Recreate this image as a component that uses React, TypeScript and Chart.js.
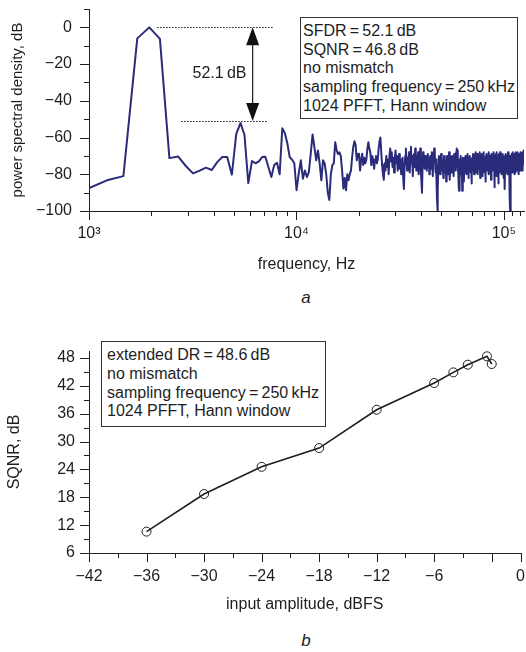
import React, { useEffect, useRef } from 'react';
import { Chart, registerables } from 'chart.js';

Chart.register(...registerables);

const FONT = '"Liberation Sans", Arial, Helvetica, sans-serif';
const INK = '#1e1e1e';
const NAVY = '#2a2b7a';

// ---------- panel a: PSD (1024-point FFT bins k = 4 .. 512) ----------
const SAMPLE_RATE_HZ = 250000;
const FFT_SIZE = 1024;
const FIRST_BIN = 4;
const psdDb = [
  -88, -83.3, -81, -6, 0, -6.3, -71.2, -70.3, -75.5, -79.5,
  -78, -76.4, -77.7, -73.4, -70.6, -70.6, -80.2, -58, -52.1, -58.5,
  -84.8, -72.8, -74, -73, -70.6, -70.5, -76, -81.5, -75, -73.7,
  -80, -55, -57.5, -63, -70.6, -72, -74, -88.7, -79.7, -72.4,
  -82.4, -77.9, -81.5, -78.8, -68.8, -58.3, -65.2, -72.4, -67, -74.2,
  -83.3, -72.4, -74, -80, -90, -94, -80, -75, -74, -62.5,
  -67, -69, -68, -70, -78, -87.8, -82, -88.7, -80, -83.3,
  -80, -78, -70.6, -65, -62, -64, -72.4, -69, -68.8, -77.9,
  -72, -68.8, -75, -71, -74, -72, -66, -62.5, -66, -68,
  -75, -70, -72, -77, -72, -70, -74, -72, -66, -62,
  -60, -68, -75, -80, -83, -74, -78, -70, -76, -72,
  -80, -70, -66, -73, -68, -76, -71, -79, -72, -67,
  -74, -70, -78, -73, -69, -77, -72, -80, -75, -71,
  -82, -88, -76, -70, -66, -73, -78, -71, -74, -68,
  -79, -72, -65, -74, -70, -81, -73, -69, -76, -66,
  -72, -78, -70, -75, -68, -80, -74, -70, -66, -79,
  -84, -90, -76, -68, -73, -70, -77, -72, -75, -70,
  -78, -73, -69, -76, -71, -80, -74, -70, -77, -72,
  -68, -75, -81, -71, -69, -66, -67, -74, -79, -72,
  -85, -94, -101, -88, -75, -70, -77, -72, -80, -74,
  -69, -76, -71, -78, -73, -82, -75, -70, -77, -72,
  -79, -74, -84, -76, -70, -78, -73, -80, -72, -68,
  -75, -83, -74, -70, -77, -72, -79, -74, -70, -76,
  -81, -73, -69, -75, -71, -78, -72, -68, -66, -74,
  -70, -67, -76, -80, -86, -89, -78, -72, -76, -70,
  -79, -73, -81, -75, -89, -77, -71, -78, -73, -84,
  -76, -71, -79, -74, -70, -77, -73, -80, -74, -69,
  -76, -72, -82, -75, -71, -78, -73, -70, -77, -72,
  -79, -74, -85, -76, -71, -78, -73, -69, -76, -72,
  -80, -74, -70, -77, -72, -68, -75, -71, -79, -73,
  -69, -76, -72, -80, -74, -70, -77, -73, -68, -75,
  -71, -82, -74, -70, -78, -72, -69, -76, -73, -81,
  -75, -70, -77, -72, -68, -74, -79, -71, -76, -73,
  -84, -75, -70, -77, -72, -69, -76, -71, -78, -74,
  -70, -80, -73, -68, -75, -72, -79, -74, -70, -77,
  -71, -83, -75, -69, -76, -72, -78, -73, -70, -77,
  -74, -68, -75, -71, -80, -73, -87, -70, -78, -72,
  -69, -76, -74, -81, -72, -68, -75, -71, -78, -73,
  -70, -85, -76, -72, -69, -77, -73, -79, -71, -68,
  -75, -72, -78, -74, -70, -76, -73, -80, -72, -69,
  -77, -71, -75, -70, -78, -73, -82, -74, -79, -84,
  -88, -76, -71, -77, -73, -69, -76, -72, -79, -74,
  -70, -77, -73, -80, -71, -68, -75, -72, -78, -74,
  -70, -76, -81, -86, -92, -100, -101, -84, -74, -70,
  -77, -72, -69, -76, -73, -79, -71, -68, -75, -72,
  -78, -74, -70, -77, -73, -69, -80, -74, -71, -78,
  -72, -68, -75, -71, -79, -74, -70, -76, -72, -69,
  -77, -73, -70, -78, -74, -68, -75, -71, -77, -73,
  -80, -72, -69, -76, -72, -70, -78, -73, -68, -75,
  -71, -77, -72, -69, -76, -73, -70, -78, -72, -68,
  -75, -71, -77, -72, -69, -74, -70, -67, -70,
];

const freqTickValues = [1e3, 1e4, 1e5];
const freqTickLabels = ['10³', '10⁴', '10⁵'];
const freqMinorTicks = [2e3, 3e3, 4e3, 5e3, 6e3, 7e3, 8e3, 9e3, 2e4, 3e4, 4e4, 5e4, 6e4, 7e4, 8e4, 9e4, 1.1e5, 1.2e5];
const psdTickValues = [-100, -80, -60, -40, -20, 0];
const psdTickLabels = ['−100', '−80', '−60', '−40', '−20', '0'];
const psdMinorTicks = [-90, -70, -50, -30, -10, 10];

// SFDR annotation (dB levels and frequencies in Hz)
const sfdrCarrierDb = 0;
const sfdrSpurDb = -51;
const sfdrTopLineHz = [2130, 7700];
const sfdrBottomLineHz = [2780, 7240];
const sfdrArrowHz = 6150;

// ---------- panel b: SQNR vs input amplitude ----------
const amplitudeDbfs = [-36, -30, -24, -18, -12, -6, -4, -2.5, -0.5, 0];
const sqnrDb = [10.6, 18.7, 24.55, 28.6, 36.85, 42.6, 44.9, 46.55, 48.35, 46.7];
const ampTickValues = [-42, -36, -30, -24, -18, -12, -6, 0, 3];
const ampTickLabels = ['−42', '−36', '−30', '−24', '−18', '−12', '−6', '', '0'];
const ampMinorTicks = [-39, -33, -27, -21, -15, -9, -3];
const sqnrTickValues = [6, 12, 18, 24, 30, 36, 42, 48];
const sqnrTickLabels = ['6', '12', '18', '24', '30', '36', '42', '48'];
const sqnrMinorTicks = [9, 15, 21, 27, 33, 39, 45];

function makeTickPlugin(xMajor: number[], xMinor: number[], yMajor: number[], yMinor: number[]) {
  return {
    id: 'tickMarks',
    afterDraw(chart: any) {
      const { ctx, chartArea } = chart;
      const xs = chart.scales.x;
      const ys = chart.scales.y;
      ctx.save();
      ctx.strokeStyle = INK;
      ctx.lineWidth = 1;
      ctx.beginPath();
      const vx = (vals: number[], len: number) =>
        vals.forEach((v) => {
          const p = Math.round(xs.getPixelForValue(v)) + 0.5;
          ctx.moveTo(p, chartArea.bottom);
          ctx.lineTo(p, chartArea.bottom + len);
        });
      const vy = (vals: number[], len: number) =>
        vals.forEach((v) => {
          const p = Math.round(ys.getPixelForValue(v)) + 0.5;
          ctx.moveTo(chartArea.left, p);
          ctx.lineTo(chartArea.left - len, p);
        });
      vx(xMajor, 9);
      vx(xMinor, 5);
      vy(yMajor, 9);
      vy(yMinor, 5);
      ctx.stroke();
      ctx.restore();
    },
  };
}

const sfdrPlugin = {
  id: 'sfdrAnnotation',
  afterDatasetsDraw(chart: any) {
    const { ctx } = chart;
    const xs = chart.scales.x;
    const ys = chart.scales.y;
    const y0 = ys.getPixelForValue(sfdrCarrierDb);
    const y1 = ys.getPixelForValue(sfdrSpurDb);
    ctx.save();
    ctx.strokeStyle = INK;
    ctx.lineWidth = 1;
    ctx.setLineDash([1.5, 1.5]);
    ctx.beginPath();
    ctx.moveTo(xs.getPixelForValue(sfdrTopLineHz[0]), Math.round(y0) + 0.5);
    ctx.lineTo(xs.getPixelForValue(sfdrTopLineHz[1]), Math.round(y0) + 0.5);
    ctx.moveTo(xs.getPixelForValue(sfdrBottomLineHz[0]), Math.round(y1) + 0.5);
    ctx.lineTo(xs.getPixelForValue(sfdrBottomLineHz[1]), Math.round(y1) + 0.5);
    ctx.stroke();
    ctx.setLineDash([]);
    const ax = xs.getPixelForValue(sfdrArrowHz);
    const head = 18;
    const half = 6.5;
    ctx.lineWidth = 1.2;
    ctx.beginPath();
    ctx.moveTo(ax, y0 + head - 1);
    ctx.lineTo(ax, y1 - head + 1);
    ctx.stroke();
    ctx.fillStyle = '#111';
    ctx.beginPath();
    ctx.moveTo(ax, y0);
    ctx.lineTo(ax - half, y0 + head);
    ctx.lineTo(ax + half, y0 + head);
    ctx.closePath();
    ctx.fill();
    ctx.beginPath();
    ctx.moveTo(ax, y1);
    ctx.lineTo(ax - half, y1 - head);
    ctx.lineTo(ax + half, y1 - head);
    ctx.closePath();
    ctx.fill();
    ctx.restore();
  },
};

function fixedBox(width?: number, height?: number) {
  return (s: any) => {
    if (width !== undefined) s.width = width;
    if (height !== undefined) s.height = height;
    s.paddingTop = 0;
    s.paddingBottom = 0;
    s.paddingLeft = 0;
    s.paddingRight = 0;
  };
}

function setTicks(values: number[]) {
  return (s: any) => {
    s.ticks = values.map((v) => ({ value: v }));
  };
}

function labelFor(values: number[], labels: string[]) {
  return (v: any) => {
    const i = values.indexOf(Number(v));
    return i >= 0 ? labels[i] : '';
  };
}

const W = 526;
const TOP_H = 274;
const BOT_TOP = 330;
const BOT_H = 284;

export default function App() {
  const topRef = useRef<HTMLCanvasElement>(null);
  const botRef = useRef<HTMLCanvasElement>(null);

  useEffect(() => {
    Chart.defaults.font.family = FONT;
    Chart.defaults.color = INK;

    const psdPoints = psdDb.map((v, i) => ({ x: ((FIRST_BIN + i) * SAMPLE_RATE_HZ) / FFT_SIZE, y: v }));

    const top = new Chart(topRef.current as HTMLCanvasElement, {
      type: 'line',
      data: {
        datasets: [
          {
            data: psdPoints,
            borderColor: NAVY,
            borderWidth: 2,
            pointRadius: 0,
            tension: 0,
            borderJoinStyle: 'round',
          } as any,
        ],
      },
      options: {
        animation: false,
        responsive: false,
        events: [],
        layout: { padding: { left: 0, right: 2, top: 9, bottom: 0 } },
        plugins: { legend: { display: false }, tooltip: { enabled: false } },
        scales: {
          x: {
            type: 'logarithmic',
            min: 1000,
            max: 125000,
            afterBuildTicks: setTicks(freqTickValues),
            afterFit: fixedBox(undefined, TOP_H - 211),
            grid: { display: false, drawTicks: false },
            border: { display: true, color: INK, width: 1 },
            ticks: {
              autoSkip: false,
              maxRotation: 0,
              padding: 13,
              font: { size: 16 },
              callback: labelFor(freqTickValues, freqTickLabels),
            },
            title: { display: true, text: 'frequency, Hz', font: { size: 16 }, padding: { top: 0, bottom: 0 } },
          },
          y: {
            type: 'linear',
            min: -100,
            max: 10,
            afterBuildTicks: setTicks(psdTickValues),
            afterFit: fixedBox(89, undefined),
            grid: { display: false, drawTicks: false },
            border: { display: true, color: INK, width: 1 },
            ticks: {
              padding: 17,
              font: { size: 16 },
              callback: labelFor(psdTickValues, psdTickLabels),
            },
            title: { display: true, text: 'power spectral density, dB', font: { size: 15 }, padding: { top: 9, bottom: 0 } },
          },
        },
      } as any,
      plugins: [makeTickPlugin(freqTickValues, freqMinorTicks, psdTickValues, psdMinorTicks), sfdrPlugin],
    });

    const bot = new Chart(botRef.current as HTMLCanvasElement, {
      type: 'line',
      data: {
        datasets: [
          {
            data: amplitudeDbfs.map((a, i) => ({ x: a, y: sqnrDb[i] })),
            borderColor: INK,
            borderWidth: 1.6,
            pointRadius: 4.5,
            pointBorderWidth: 1,
            pointBorderColor: INK,
            pointBackgroundColor: 'rgba(0,0,0,0)',
            tension: 0,
          } as any,
        ],
      },
      options: {
        animation: false,
        responsive: false,
        events: [],
        layout: { padding: { left: 0, right: 5, top: 21, bottom: 0 } },
        plugins: { legend: { display: false }, tooltip: { enabled: false } },
        scales: {
          x: {
            type: 'linear',
            min: -42,
            max: 3,
            afterBuildTicks: setTicks(ampTickValues),
            afterFit: fixedBox(undefined, BOT_H - 223),
            grid: { display: false, drawTicks: false },
            border: { display: true, color: INK, width: 1 },
            ticks: {
              autoSkip: false,
              maxRotation: 0,
              padding: 14,
              font: { size: 16 },
              callback: labelFor(ampTickValues, ampTickLabels),
            },
            title: { display: true, text: 'input amplitude, dBFS', font: { size: 16 }, padding: { top: 0, bottom: 0 } },
          },
          y: {
            type: 'linear',
            min: 6,
            max: 49.5,
            afterBuildTicks: setTicks(sqnrTickValues),
            afterFit: fixedBox(89, undefined),
            grid: { display: false, drawTicks: false },
            border: { display: true, color: INK, width: 1 },
            ticks: {
              padding: 14,
              font: { size: 16 },
              callback: labelFor(sqnrTickValues, sqnrTickLabels),
            },
            title: { display: true, text: 'SQNR, dB', font: { size: 16 }, padding: { top: 5, bottom: 0 } },
          },
        },
      } as any,
      plugins: [makeTickPlugin(ampTickValues, ampMinorTicks, sqnrTickValues, sqnrMinorTicks)],
    });

    return () => {
      top.destroy();
      bot.destroy();
    };
  }, []);

  const boxText: React.CSSProperties = {
    position: 'absolute',
    boxSizing: 'border-box',
    border: '1px solid #333',
    background: '#fff',
    fontFamily: FONT,
    fontSize: 16,
    lineHeight: '18.7px',
    color: INK,
    whiteSpace: 'nowrap',
  };
  const T = '\u2009';

  return (
    <div style={{ position: 'absolute', left: 0, top: 0, width: W, height: 652, background: '#fff', overflow: 'hidden' }}>
      <canvas ref={topRef} width={W} height={TOP_H} style={{ position: 'absolute', left: 0, top: 0, width: W, height: TOP_H }} />
      <canvas ref={botRef} width={W} height={BOT_H} style={{ position: 'absolute', left: 0, top: BOT_TOP, width: W, height: BOT_H }} />

      <div style={{ ...boxText, left: 300, top: 17, width: 218, height: 102, padding: '4px 2px 0 2px' }}>
        <div>{`SFDR${T}=${T}52.1${T}dB`}</div>
        <div>{`SQNR${T}=${T}46.8${T}dB`}</div>
        <div>no mismatch</div>
        <div>{`sampling frequency${T}=${T}250${T}kHz`}</div>
        <div>1024 PFFT, Hann window</div>
      </div>

      <div
        style={{
          position: 'absolute',
          left: 219.5,
          top: 73.3,
          transform: 'translate(-50%, -50%)',
          fontFamily: FONT,
          fontSize: 16,
          lineHeight: 1,
          color: INK,
          whiteSpace: 'nowrap',
          background: 'transparent',
        }}
      >
        {`52.1${T}dB`}
      </div>

      <div style={{ ...boxText, left: 101, top: 341, width: 225, height: 86, lineHeight: '18.8px', padding: '4px 4px 0 5px' }}>
        <div>{`extended DR${T}=${T}48.6${T}dB`}</div>
        <div>no mismatch</div>
        <div>{`sampling frequency${T}=${T}250${T}kHz`}</div>
        <div>1024 PFFT, Hann window</div>
      </div>

      <div style={{ position: 'absolute', left: 306, top: 297, transform: 'translate(-50%, -50%)', fontFamily: FONT, fontStyle: 'italic', fontSize: 17, lineHeight: 1, color: INK }}>
        a
      </div>
      <div style={{ position: 'absolute', left: 306, top: 640, transform: 'translate(-50%, -50%)', fontFamily: FONT, fontStyle: 'italic', fontSize: 17, lineHeight: 1, color: INK }}>
        b
      </div>
    </div>
  );
}
